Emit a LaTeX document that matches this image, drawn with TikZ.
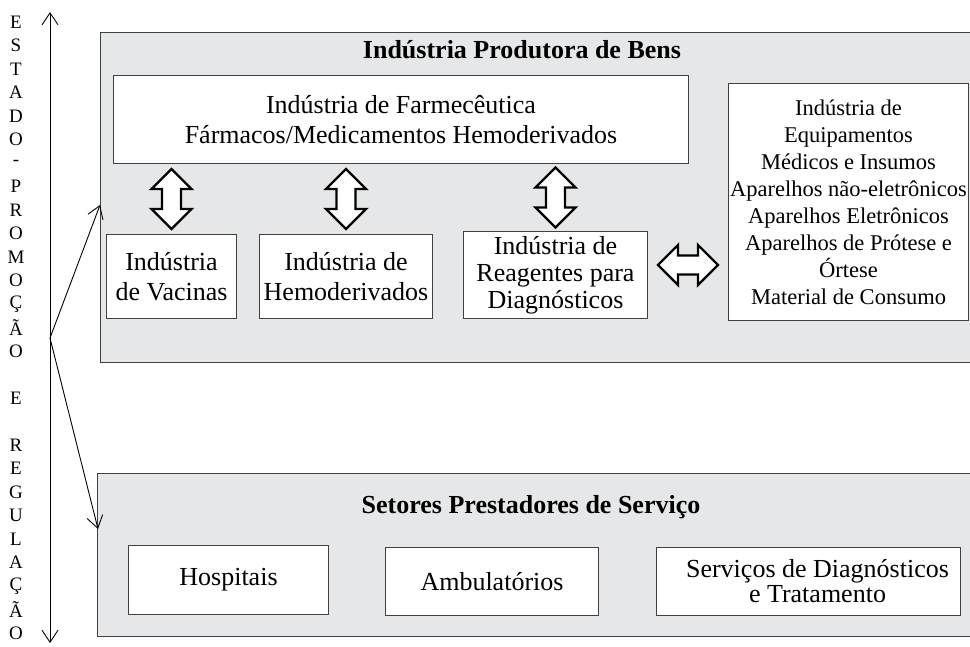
\documentclass[tikz,border=0pt]{standalone}
\usepackage{fontspec}
\setmainfont{Liberation Serif}
\usetikzlibrary{arrows.meta,calc,positioning}
\definecolor{panelgray}{RGB}{230,231,232}
\definecolor{edgegray}{RGB}{64,64,64}
\tikzset{
  every node/.style={font=\fontsize{26}{30}\selectfont},
  panel/.style={draw=edgegray,fill=panelgray,line width=1.2pt,anchor=north west,inner sep=0pt},
  box/.style={draw=edgegray,fill=white,line width=1pt,anchor=north west,align=center,inner sep=0pt},
  paneltitle/.style={font=\bfseries\fontsize{26}{30}\selectfont},
  letter/.style={font=\fontsize{19}{20}\selectfont,inner sep=0pt},
  barb/.style={line width=0.9pt,-{Straight Barb[length=12pt,width=16pt]}},
  dblarrow/.pic={\draw[line width=2.4pt,fill=white,line join=miter]
    (-30,0)--(-10,20)--(-10,9.5)--(10,9.5)--(10,20)--(30,0)
    --(10,-20)--(10,-9.5)--(-10,-9.5)--(-10,-20)--cycle;}
}
\begin{document}
\begin{tikzpicture}[x=1pt,y=-1pt]
\useasboundingbox (0,0) rectangle (970,646);
% panels
\node[panel,minimum width=880,minimum height=330] (prod) at (100,32) {};
\node[panel,minimum width=880,minimum height=163] (serv) at (97,473) {};
\node[paneltitle] (prodtitle) at (522,50) {Indústria Produtora de Bens};
\node[paneltitle] (servtitle) at (531,507) {Setores Prestadores de Serviço};
% industria
\node[box,minimum width=575,minimum height=88] (farm) at (113,75)
  {Indústria de Farmecêutica\\Fármacos/Medicamentos Hemoderivados};
\node[box,minimum width=130,minimum height=84] (vac) at (106,234) {Indústria\\de Vacinas};
\node[box,minimum width=173,minimum height=84] (hemo) at (259,234) {Indústria de\\Hemoderivados};
\node[box,minimum width=184,minimum height=87,font=\fontsize{26}{27}\selectfont] (reag) at (463,231)
  {Indústria de\\Reagentes para\\Diagnósticos};
\node[box,minimum width=240,minimum height=237,font=\fontsize{22.5}{27}\selectfont] (equip) at (728,83)
  {Indústria de\\Equipamentos\\Médicos e Insumos\\Aparelhos não-eletrônicos\\Aparelhos Eletrônicos\\Aparelhos de Prótese e\\Órtese\\Material de Consumo};
% servicos
\node[box,minimum width=200,minimum height=69] (hosp) at (128,545) {Hospitais};
\node[box,minimum width=213,minimum height=68] (amb) at (385,547) {Ambulatórios};
\node[box,minimum width=304,minimum height=68,font=\fontsize{26}{25}\selectfont] (diag) at (656,547)
  {\hspace*{18pt}Serviços de Diagnósticos\\\hspace*{18pt}e Tratamento};
% double arrows
\foreach \b in {vac,hemo,reag}
  \pic[rotate=90] at ($(farm.south -| \b.north)!0.5!(\b.north)$) {dblarrow};
\pic at ($(reag.east)!0.5!(reag.east -| equip.west)+(0,-10)$) {dblarrow};
% estado
\coordinate (axtop) at (50,12);
\coordinate (axbot) at (50,643);
\coordinate (fork) at (50,338);
\coordinate (prodin) at (100,205);
\coordinate (servin) at (98,529);
\draw[barb,{Straight Barb[length=12pt,width=16pt]}-{Straight Barb[length=12pt,width=16pt]}] (axbot)--(axtop);
\draw[barb] (fork)--(prodin);
\draw[barb] (fork)--(servin);
\foreach \ch [count=\i] in {E,S,T,A,D,O,-,P,R,O,M,O,Ç,Ã,O,{},E,{},R,E,G,U,L,A,Ç,Ã,O}
  \node[letter] (l\i) at (16,{22+23.5*(\i-1)}) {\ch};
\end{tikzpicture}
\end{document}
